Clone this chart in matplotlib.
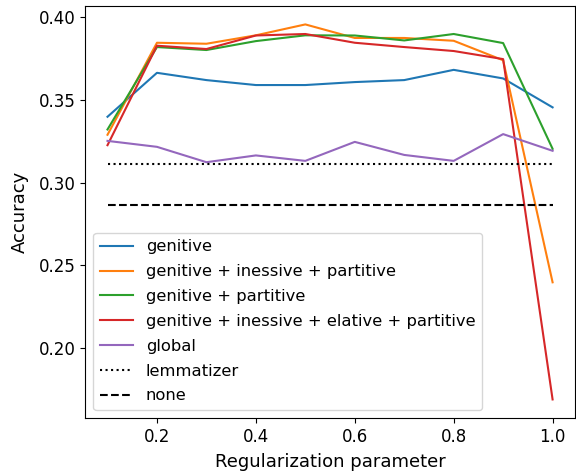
import matplotlib
matplotlib.use("Agg")
import matplotlib.pyplot as plt
import numpy as np

reg = [0.1, 0.2, 0.3, 0.4, 0.5, 0.6, 0.7, 0.8, 0.9, 1.0]

genitive = [0.3398, 0.3664, 0.3620, 0.3590, 0.3590, 0.3608, 0.3620, 0.3682, 0.3630, 0.3455]
gen_ine_par = [0.3289, 0.3846, 0.3840, 0.3891, 0.3957, 0.3875, 0.3875, 0.3858, 0.3740, 0.2396]
gen_par = [0.3321, 0.3820, 0.3802, 0.3856, 0.3891, 0.3890, 0.3860, 0.3899, 0.3844, 0.3204]
gen_ine_ela_par = [0.3226, 0.3828, 0.3808, 0.3890, 0.3899, 0.3846, 0.3820, 0.3796, 0.3747, 0.1687]
global_ = [0.3252, 0.3216, 0.3123, 0.3164, 0.3131, 0.3246, 0.3167, 0.3131, 0.3293, 0.3192]
lemmatizer = 0.3111
none = 0.2861

fig, ax = plt.subplots(figsize=(5.76, 4.72), dpi=100)

ax.plot(reg, genitive, label="genitive")
ax.plot(reg, gen_ine_par, label="genitive + inessive + partitive")
ax.plot(reg, gen_par, label="genitive + partitive")
ax.plot(reg, gen_ine_ela_par, label="genitive + inessive + elative + partitive")
ax.plot(reg, global_, label="global")
ax.plot(reg, [lemmatizer] * len(reg), color="black", linestyle=":", label="lemmatizer")
ax.plot(reg, [none] * len(reg), color="black", linestyle="--", label="none")

ax.tick_params(labelsize=12)
ax.set_xlabel("Regularization parameter", fontsize=13, labelpad=5)
ax.set_ylabel("Accuracy", fontsize=13, labelpad=7)
ax.legend(loc="lower left", fontsize=11.8, labelspacing=0.6)

plt.subplots_adjust(left=0.148, right=0.998, top=0.988, bottom=0.114)
plt.savefig("out.png")
